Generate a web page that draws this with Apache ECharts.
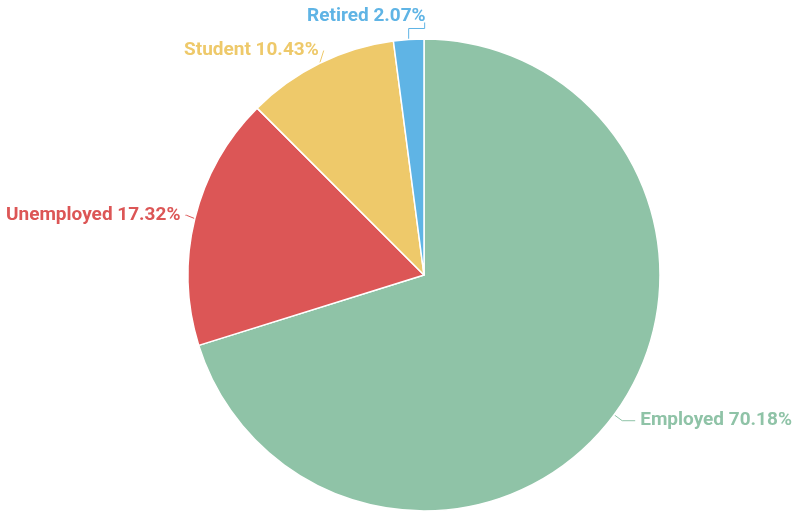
<!DOCTYPE html>
<html><head><meta charset="utf-8">
<script src="https://cdn.jsdelivr.net/npm/echarts@6/dist/echarts.min.js"></script>
<style>html,body{margin:0;padding:0;background:#fff}#c{width:792px;height:511px}</style>
</head><body><div id="c"></div>
<script>
const categories = ['Employed', 'Unemployed', 'Student', 'Retired'];
const values = [70.18, 17.32, 10.43, 2.07];
const colors = ['#8fc3a7', '#dc5656', '#eec96a', '#5fb4e5'];
const lineLen = [[10, 13], [14, 1], [17, 1], [10, 1]];
const chart = echarts.init(document.getElementById('c'));
chart.setOption({
  animation: false,
  series: [{
    type: 'pie',
    center: [424, 275],
    radius: 236,
    startAngle: 90,
    clockwise: true,
    data: categories.map((n, i) => ({
      name: n, value: values[i], itemStyle: {color: colors[i]},
      labelLine: {length: lineLen[i][0], length2: lineLen[i][1]}
    })),
    itemStyle: {borderColor: '#fff', borderWidth: 1.5},
    label: {
      formatter: '{b} {d}%',
      fontFamily: 'Roboto',
      fontWeight: 'bold',
      fontSize: 19,
      color: 'inherit',
      overflow: 'none'
    },
    labelLine: {lineStyle: {width: 1}},
    labelLayout: function (p) {
      if (p.dataIndex !== 3 || !p.labelLinePoints) return {};
      const e = p.labelLinePoints[0];
      return {
        x: e[0] + 17, y: e[1] - 23, align: 'right', verticalAlign: 'middle',
        labelLinePoints: [[e[0], e[1]], [e[0], e[1] - 11], [e[0] + 16, e[1] - 11], [e[0] + 16, e[1] - 17]]
      };
    }
  }]
});
</script></body></html>
